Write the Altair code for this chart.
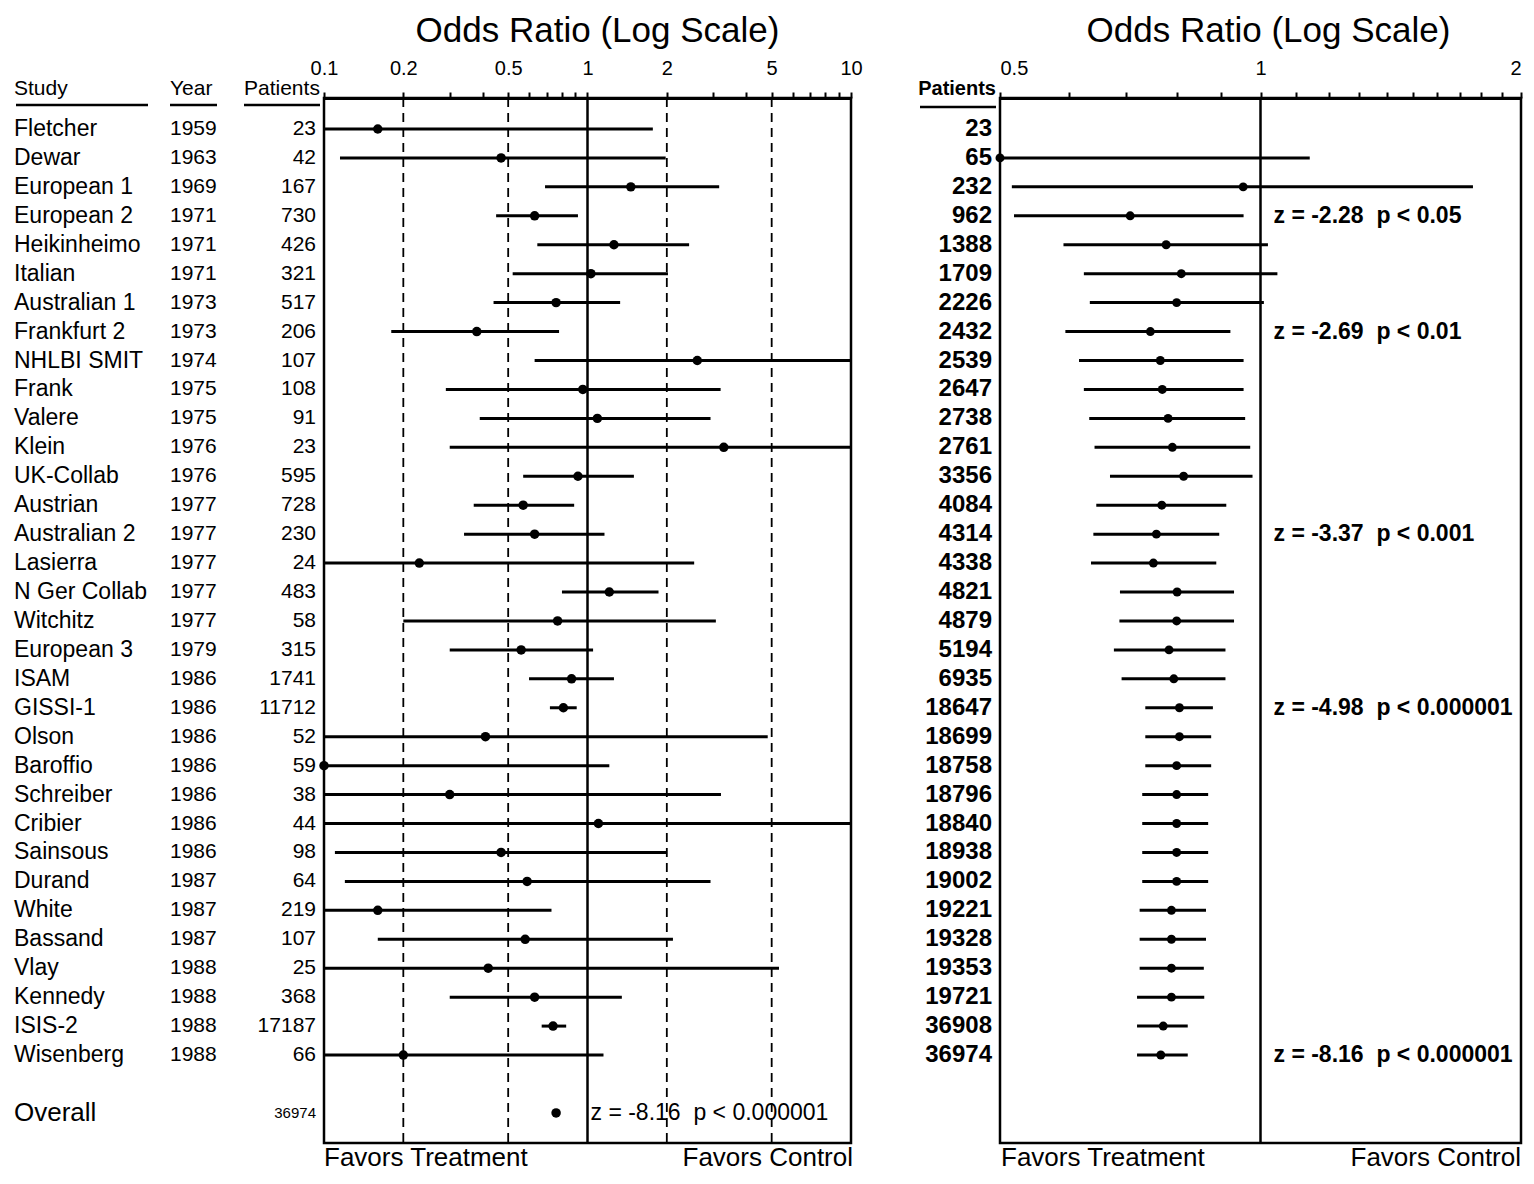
import json
import altair as alt
import pandas as pd

# ---------------- data ----------------
studies = ["Fletcher", "Dewar", "European 1", "European 2", "Heikinheimo", "Italian",
           "Australian 1", "Frankfurt 2", "NHLBI SMIT", "Frank", "Valere", "Klein",
           "UK-Collab", "Austrian", "Australian 2", "Lasierra", "N Ger Collab", "Witchitz",
           "European 3", "ISAM", "GISSI-1", "Olson", "Baroffio", "Schreiber", "Cribier",
           "Sainsous", "Durand", "White", "Bassand", "Vlay", "Kennedy", "ISIS-2", "Wisenberg"]
years = [1959, 1963, 1969, 1971, 1971, 1971, 1973, 1973, 1974, 1975, 1975, 1976, 1976,
         1977, 1977, 1977, 1977, 1977, 1979, 1986, 1986, 1986, 1986, 1986, 1986, 1986,
         1987, 1987, 1987, 1988, 1988, 1988, 1988]
patients = [23, 42, 167, 730, 426, 321, 517, 206, 107, 108, 91, 23, 595, 728, 230, 24,
            483, 58, 315, 1741, 11712, 52, 59, 38, 44, 98, 64, 219, 107, 25, 368, 17187, 66]
odds_ratio = [0.16, 0.47, 1.46, 0.63, 1.26, 1.03, 0.76, 0.38, 2.61, 0.96, 1.09, 3.29,
              0.92, 0.57, 0.63, 0.23, 1.21, 0.77, 0.56, 0.87, 0.81, 0.41, 0.10, 0.30,
              1.10, 0.47, 0.59, 0.16, 0.58, 0.42, 0.63, 0.74, 0.20]
ci_low = [0.10, 0.115, 0.69, 0.45, 0.645, 0.52, 0.44, 0.18, 0.63, 0.29, 0.39, 0.30,
          0.57, 0.37, 0.34, 0.10, 0.80, 0.20, 0.30, 0.60, 0.72, 0.10, 0.10, 0.10,
          0.10, 0.11, 0.12, 0.10, 0.16, 0.10, 0.30, 0.67, 0.10]
ci_high = [1.77, 1.98, 3.16, 0.92, 2.43, 2.02, 1.33, 0.78, 10.0, 3.2, 2.93, 10.0,
           1.50, 0.89, 1.16, 2.54, 1.86, 3.07, 1.05, 1.26, 0.91, 4.83, 1.21, 3.21,
           10.0, 2.0, 2.93, 0.73, 2.11, 5.33, 1.35, 0.83, 1.15]

overall_label = "Overall"
overall_patients = 36974
overall_or = 0.76
overall_z = "z = -8.16  p < 0.000001"

cum_patients = [23, 65, 232, 962, 1388, 1709, 2226, 2432, 2539, 2647, 2738, 2761, 3356,
                4084, 4314, 4338, 4821, 4879, 5194, 6935, 18647, 18699, 18758, 18796,
                18840, 18938, 19002, 19221, 19328, 19353, 19721, 36908, 36974]
cum_or = [None, 0.50, 0.955, 0.707, 0.778, 0.81, 0.80, 0.746, 0.766, 0.77, 0.782, 0.791,
          0.815, 0.769, 0.758, 0.752, 0.801, 0.80, 0.784, 0.794, 0.806, 0.806, 0.80,
          0.80, 0.80, 0.80, 0.80, 0.789, 0.789, 0.789, 0.789, 0.772, 0.767]
cum_low = [None, 0.50, 0.516, 0.519, 0.592, 0.625, 0.635, 0.595, 0.617, 0.625, 0.634,
           0.643, 0.67, 0.646, 0.641, 0.637, 0.688, 0.687, 0.677, 0.691, 0.736, 0.736,
           0.736, 0.73, 0.73, 0.73, 0.73, 0.725, 0.725, 0.725, 0.72, 0.72, 0.72]
cum_high = [None, 1.14, 1.76, 0.956, 1.02, 1.046, 1.009, 0.923, 0.956, 0.956, 0.96,
            0.973, 0.979, 0.913, 0.896, 0.889, 0.932, 0.932, 0.911, 0.911, 0.881, 0.877,
            0.877, 0.87, 0.87, 0.87, 0.87, 0.865, 0.865, 0.86, 0.861, 0.824, 0.824]

z_rows = [3, 7, 14, 20, 32]
z_texts = ["z = -2.28  p < 0.05", "z = -2.69  p < 0.01", "z = -3.37  p < 0.001",
           "z = -4.98  p < 0.000001", "z = -8.16  p < 0.000001"]

left_ticks = [0.1, 0.2, 0.3, 0.4, 0.5, 0.6, 0.7, 0.8, 0.9, 1, 2, 3, 4, 5, 6, 7, 8, 9, 10]
left_tick_labels = [0.1, 0.2, 0.5, 1, 2, 5, 10]
left_dashed = [0.2, 0.5, 2, 5]
right_ticks = [0.5, 0.6, 0.7, 0.8, 0.9, 1, 1.1, 1.2, 1.3, 1.4, 1.5, 1.6, 1.7, 1.8, 1.9, 2]
right_tick_labels = [0.5, 1, 2]
reference_line = [1]

headers_left = ["Study", "Year", "Patients"]
header_right = "Patients"
axis_title = "Odds Ratio (Log Scale)"
favors = ["Favors Treatment", "Favors Control"]

# ---------------- styling ----------------
FR = "Liberation Sans, Arial, Helvetica, sans-serif"
NB = "\u00a0"
WL, WR, H = 527, 521, 1045
GAP = 149
Y0, Y1 = -1.071, 35.04
n = len(studies)
FAV_Y = H + 15


def yenc():
    return alt.Y("row:Q", scale=alt.Scale(domain=[Y0, Y1], reverse=True, nice=False, zero=False),
                 axis=None)


def make_axis(ticks, labels, title_x, flush):
    expr = "indexof(%s, datum.value) >= 0 ? format(datum.value, '~g') : ''" % json.dumps(labels)
    return alt.Axis(orient="top", values=ticks, labelExpr=expr, title=axis_title,
                    titleX=title_x, titleFont=FR, titleFontSize=35, titleFontWeight="normal",
                    titleColor="black", titlePadding=10, labelFont=FR, labelFontSize=20,
                    labelColor="black", labelPadding=13.5, labelFlush=flush, labelOverlap=False,
                    tickColor="black", tickWidth=2, tickSize=6, domainColor="black",
                    domainWidth=3, grid=False)


xsL = alt.Scale(type="log", domain=[0.1, 10], nice=False)
xsR = alt.Scale(type="log", domain=[0.5, 2], nice=False)
axL = make_axis(left_ticks, left_tick_labels, 273, False)
axR = make_axis(right_ticks, right_tick_labels, 268, True)


def XL(f):
    return alt.X(f, type="quantitative", scale=xsL, axis=axL)


def XR(f):
    return alt.X(f, type="quantitative", scale=xsR, axis=axR)


def one(text):
    return pd.DataFrame({"t": [text]})


def txt(df, align, size, weight="normal"):
    return alt.Chart(df).mark_text(align=align, baseline="middle", font=FR, fontSize=size,
                                   fontWeight=weight, color="black")


# ---------------- left panel ----------------
left_df = pd.DataFrame({
    "row": list(range(n)), "study": studies, "year": [str(v) for v in years],
    "patients": [str(v) for v in patients], "odds": odds_ratio, "lo": ci_low, "hi": ci_high,
})
overall_df = pd.DataFrame({
    "row": [n + 1], "label": [overall_label], "patients": [str(overall_patients)],
    "odds": [overall_or], "ref": reference_line, "z": [overall_z.replace("  ", NB + NB)],
})

L = []
L.append(alt.Chart(pd.DataFrame({"v": left_dashed})).mark_rule(
    color="black", strokeWidth=1.8, strokeDash=[9, 6]).encode(x=XL("v")))
L.append(alt.Chart(pd.DataFrame({"v": reference_line})).mark_rule(
    color="black", strokeWidth=2.5).encode(x=XL("v")))
L.append(alt.Chart(left_df).mark_rule(color="black", strokeWidth=3).encode(
    x=XL("lo"), x2="hi", y=yenc()))
L.append(alt.Chart(left_df).mark_circle(color="black", size=90, opacity=1).encode(
    x=XL("odds"), y=yenc()))
L.append(alt.Chart(overall_df).mark_circle(color="black", size=90, opacity=1).encode(
    x=XL("odds"), y=yenc()))
L.append(alt.Chart(overall_df).mark_text(align="left", baseline="middle", dx=3, font=FR,
                                         fontSize=23, color="black").encode(
    x=XL("ref"), y=yenc(), text="z:N"))
# text columns
L.append(txt(left_df, "left", 23).encode(x=alt.value(-310), y=yenc(), text="study:N"))
L.append(txt(left_df, "left", 21).encode(x=alt.value(-154), y=yenc(), text="year:N"))
L.append(txt(left_df, "right", 21).encode(x=alt.value(-8), y=yenc(), text="patients:N"))
L.append(txt(overall_df, "left", 26).encode(x=alt.value(-310), y=yenc(), text="label:N"))
L.append(txt(overall_df, "right", 15).encode(x=alt.value(-8), y=yenc(), text="patients:N"))
# headers + underlines
for t, xa, x1, x2 in [(headers_left[0], -310, -308, -176), (headers_left[1], -154, -154, -107),
                      (headers_left[2], -80, -80, -4)]:
    L.append(txt(one(t), "left", 21).encode(x=alt.value(xa), y=alt.value(-9), text="t:N"))
    L.append(alt.Chart(one(t)).mark_rule(color="black", strokeWidth=2.5).encode(
        x=alt.value(x1), x2=alt.value(x2), y=alt.value(7)))
L.append(txt(one(favors[0]), "left", 26).encode(x=alt.value(0), y=alt.value(FAV_Y), text="t:N"))
L.append(txt(one(favors[1]), "right", 26).encode(x=alt.value(WL + 2), y=alt.value(FAV_Y),
                                                 text="t:N"))

left = alt.layer(*L).properties(width=WL, height=H)

# ---------------- right panel ----------------
right_df = pd.DataFrame({
    "row": list(range(n)), "patients": [str(v) for v in cum_patients],
    "odds": cum_or, "lo": cum_low, "hi": cum_high,
})
z_df = pd.DataFrame({"row": z_rows, "z": [t.replace("  ", NB + NB) for t in z_texts],
                     "ref": reference_line * len(z_rows)})

R = []
R.append(alt.Chart(pd.DataFrame({"v": reference_line})).mark_rule(
    color="black", strokeWidth=2.5).encode(x=XR("v")))
R.append(alt.Chart(right_df).mark_rule(color="black", strokeWidth=3).encode(
    x=XR("lo"), x2="hi", y=yenc()))
R.append(alt.Chart(right_df).mark_circle(color="black", size=80, opacity=1).encode(
    x=XR("odds"), y=yenc()))
R.append(txt(right_df, "right", 24, "bold").encode(x=alt.value(-8), y=yenc(), text="patients:N"))
R.append(alt.Chart(z_df).mark_text(align="left", baseline="middle", dx=13, font=FR,
                                   fontSize=23, fontWeight="bold", color="black").encode(
    x=XR("ref"), y=yenc(), text="z:N"))
R.append(txt(one(header_right), "right", 20, "bold").encode(
    x=alt.value(-4), y=alt.value(-9), text="t:N"))
R.append(alt.Chart(one(header_right)).mark_rule(color="black", strokeWidth=2.5).encode(
    x=alt.value(-80), x2=alt.value(-4), y=alt.value(9)))
R.append(txt(one(favors[0]), "left", 26).encode(x=alt.value(1), y=alt.value(FAV_Y), text="t:N"))
R.append(txt(one(favors[1]), "right", 26).encode(x=alt.value(WR), y=alt.value(FAV_Y),
                                                 text="t:N"))

right = alt.layer(*R).properties(width=WR, height=H)

chart = alt.hconcat(left, right, spacing=GAP, bounds="flush").properties(
    padding={"left": 4, "top": 4, "right": 0, "bottom": 0},
    background="white",
).configure_view(stroke="black", strokeWidth=2.5)

chart.save("out.html", embed_options={"renderer": "svg", "actions": False})
